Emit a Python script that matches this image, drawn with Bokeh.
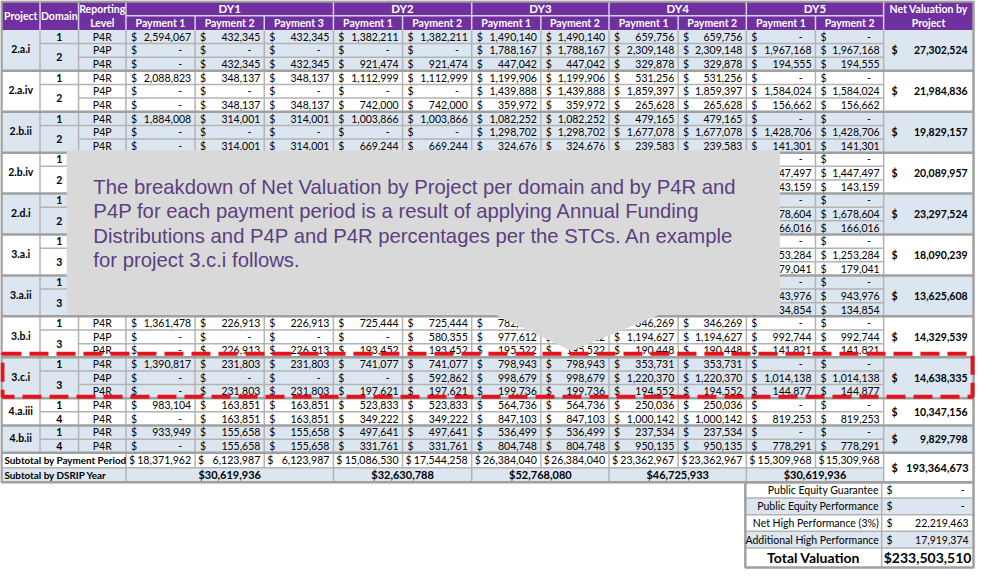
from bokeh.plotting import figure
from bokeh.models import Range1d, ColumnDataSource
from bokeh.core.properties import value
from bokeh.embed import file_html
from bokeh.resources import INLINE

H = None  # value hidden under the call-out box

# ---------------- data ----------------
projects = ["2.a.i", "2.a.iv", "2.b.ii", "2.b.iv", "2.d.i", "3.a.i", "3.a.ii",
            "3.b.i", "3.c.i", "4.a.iii", "4.b.ii"]
project_domains = [["1", "2"], ["1", "2"], ["1", "2"], ["1", "2"], ["1", "2"],
                   ["1", "3"], ["1", "3"], ["1", "3"], ["1", "3"], ["1", "4"], ["1", "4"]]
project_levels = [["P4R", "P4P", "P4R"]] * 9 + [["P4R", "P4R"]] * 2
net_valuation = [27302524, 21984836, 19829157, 20089957, 23297524, 18090239,
                 13625608, 14329539, 14638335, 10347156, 9829798]

dy_labels = ["DY1", "DY2", "DY3", "DY4", "DY5"]
dy_payments = [3, 2, 2, 2, 2]
payment_labels = ["Payment 1", "Payment 2", "Payment 3", "Payment 1", "Payment 2",
                  "Payment 1", "Payment 2", "Payment 1", "Payment 2", "Payment 1", "Payment 2"]

dy1_p1 = [2594067, 0, 0, 2088823, 0, 0, 1884008, 0, 0] + [H] * 12 + [1361478, 0, 0, 1390817, 0, 0, 983104, 0, 933949, 0]
dy1_p2 = [432345, 0, 432345, 348137, 0, 348137, 314001, 0, 314001] + [H] * 12 + [226913, 0, 226913, 231803, 0, 231803, 163851, 163851, 155658, 155658]
dy1_p3 = [432345, 0, 432345, 348137, 0, 348137, 314001, 0, 314001] + [H] * 12 + [226913, 0, 226913, 231803, 0, 231803, 163851, 163851, 155658, 155658]
dy2_p1 = [1382211, 0, 921474, 1112999, 0, 742000, 1003866, 0, 669244] + [H] * 12 + [725444, 0, 193452, 741077, 0, 197621, 523833, 349222, 497641, 331761]
dy2_p2 = [1382211, 0, 921474, 1112999, 0, 742000, 1003866, 0, 669244] + [H] * 12 + [725444, 580355, 193452, 741077, 592862, 197621, 523833, 349222, 497641, 331761]
dy3_p1 = [1490140, 1788167, 447042, 1199906, 1439888, 359972, 1082252, 1298702, 324676] + [H] * 12 + [782094, 977612, 195522, 798943, 998679, 199736, 564736, 847103, 536499, 804748]
dy3_p2 = [1490140, 1788167, 447042, 1199906, 1439888, 359972, 1082252, 1298702, 324676] + [H] * 12 + [782094, 977612, 195522, 798943, 998679, 199736, 564736, 847103, 536499, 804748]
dy4_p1 = [659756, 2309148, 329878, 531256, 1859397, 265628, 479165, 1677078, 239583] + [H] * 12 + [346269, 1194627, 190448, 353731, 1220370, 194552, 250036, 1000142, 237534, 950135]
dy4_p2 = [659756, 2309148, 329878, 531256, 1859397, 265628, 479165, 1677078, 239583] + [H] * 12 + [346269, 1194627, 190448, 353731, 1220370, 194552, 250036, 1000142, 237534, 950135]
dy5_p1 = [0, 1967168, 194555, 0, 1584024, 156662, 0, 1428706, 141301, 0, 1447497, 143159,
          0, 1678604, 166016, 0, 1253284, 179041, 0, 943976, 134854, 0, 992744, 141821,
          0, 1014138, 144877, 0, 819253, 0, 778291]
dy5_p2 = [0, 1967168, 194555, 0, 1584024, 156662, 0, 1428706, 141301, 0, 1447497, 143159,
          0, 1678604, 166016, 0, 1253284, 179041, 0, 943976, 134854, 0, 992744, 141821,
          0, 1014138, 144877, 0, 819253, 0, 778291]
payment_columns = [dy1_p1, dy1_p2, dy1_p3, dy2_p1, dy2_p2, dy3_p1, dy3_p2, dy4_p1, dy4_p2, dy5_p1, dy5_p2]

subtotal_payment = [18371962, 6123987, 6123987, 15086530, 17544258, 26384040, 26384040,
                    23362967, 23362967, 15309968, 15309968]
subtotal_year = [30619936, 32630788, 52768080, 46725933, 30619936]
subtotal_project = 193364673
adjust_labels = ["Public Equity Guarantee", "Public Equity Performance",
                 "Net High Performance (3%)", "Additional High Performance"]
adjust_values = [0, 0, 22219463, 17919374]
total_valuation = 233503510

callout_lines = [
    "The breakdown of Net Valuation by Project per domain and by P4R and",
    "P4P for each payment period is a result of applying Annual Funding",
    "Distributions and P4P and P4R percentages per the STCs. An example",
    "for project 3.c.i follows.",
]
highlight_project = "3.c.i"

# ---------------- layout / style ----------------
FONT = "Lato"
PURPLE = "#7030a0"
BLUE = "#dce6f1"
WHITE = "#ffffff"

col_x = [2, 41, 80, 128, 198, 268, 338, 408, 478, 548, 617, 687, 756, 826, 895, 986]
dy_edges = [3, 6, 8, 10, 12, 14]
hdr_y = [3, 17.5, 32]
row_h = 13.93
n_rows = sum(len(l) for l in project_levels)
row_y = [32 + i * row_h for i in range(n_rows + 1)]
sub_y = [row_y[-1], 479, 494]
adj_x = [755, 893, 986]
adj_y = [494, 510, 527, 544, 561, 581]

p = figure(width=976, height=569, x_range=Range1d(1, 989), y_range=Range1d(583, 2),
           output_backend="svg", toolbar_location=None, min_border=0,
           x_axis_type=None, y_axis_type=None)
p.grid.visible = False
p.outline_line_color = None
p.background_fill_color = WHITE
p.border_fill_color = WHITE

fills = dict(left=[], right=[], top=[], bottom=[], color=[])


def F(l, r, t, b, c):
    fills["left"].append(l); fills["right"].append(r)
    fills["top"].append(t); fills["bottom"].append(b); fills["color"].append(c)


segs = {"thin": dict(x0=[], y0=[], x1=[], y1=[]),
        "thick": dict(x0=[], y0=[], x1=[], y1=[]),
        "hdr": dict(x0=[], y0=[], x1=[], y1=[])}


def S(kind, x0, y0, x1, y1):
    d = segs[kind]
    d["x0"].append(x0); d["y0"].append(y0); d["x1"].append(x1); d["y1"].append(y1)


text_styles = {
    "body": ("10.5px", "normal", "#000000"),
    "bold": ("10.5px", "bold", "#000000"),
    "hdr": ("10.5px", "bold", "#ffffff"),
    "hdr2": ("11.5px", "bold", "#ffffff"),
    "sub": ("10.6px", "normal", "#000000"),
    "subb": ("9.9px", "bold", "#000000"),
    "subv": ("11px", "bold", "#000000"),
    "big": ("14px", "bold", "#000000"),
}
texts = {}


def T(style, x, y, s, align="left"):
    d = texts.setdefault((style, align), dict(x=[], y=[], text=[]))
    d["x"].append(x); d["y"].append(y); d["text"].append(s)


def fmt(v):
    return f"{v:,.0f}"


# header
F(col_x[0], col_x[15], hdr_y[0], hdr_y[2], PURPLE)
T("hdr", (col_x[0] + col_x[1]) / 2, 17.5, "Project", "center")
T("hdr", (col_x[1] + col_x[2]) / 2, 17.5, "Domain", "center")
T("hdr", (col_x[2] + col_x[3]) / 2, 10.5, "Reporting", "center")
T("hdr", (col_x[2] + col_x[3]) / 2, 25, "Level", "center")
T("hdr", (col_x[14] + col_x[15]) / 2, 10.5, "Net Valuation by", "center")
T("hdr", (col_x[14] + col_x[15]) / 2, 25, "Project", "center")
c = 3
for lab, n in zip(dy_labels, dy_payments):
    T("hdr2", (col_x[c] + col_x[c + n]) / 2, 10.5, lab, "center")
    c += n
for j, lab in enumerate(payment_labels):
    T("hdr", (col_x[3 + j] + col_x[4 + j]) / 2, 25, lab, "center")
for c in [1, 2, 3, 6, 8, 10, 12, 14]:
    S("hdr", col_x[c], hdr_y[0], col_x[c], hdr_y[2])
for c in range(4, 14):
    if c not in dy_edges:
        S("hdr", col_x[c], hdr_y[1], col_x[c], hdr_y[2])
S("hdr", col_x[3], hdr_y[1], col_x[14], hdr_y[1])

# body
r = 0
for k, (proj, doms, levels) in enumerate(zip(projects, project_domains, project_levels)):
    n = len(levels)
    top, bot = row_y[r], row_y[r + n]
    F(col_x[0], col_x[15], top, bot, BLUE if k % 2 == 0 else WHITE)
    if k > 0:
        S("thick", col_x[0], top, col_x[15], top)
    for m in range(1, n):
        S("thin", col_x[1] if m == 1 else col_x[2], row_y[r + m], col_x[14], row_y[r + m])
    ym = (top + bot) / 2
    T("bold", (col_x[0] + col_x[1]) / 2, ym - 1, proj, "center")
    T("bold", (col_x[1] + col_x[2]) / 2, (row_y[r] + row_y[r + 1]) / 2, doms[0], "center")
    T("bold", (col_x[1] + col_x[2]) / 2, (row_y[r + 1] + bot) / 2, doms[1], "center")
    T("bold", col_x[14] + 8, ym, "$", "left")
    T("bold", col_x[15] - 6, ym, fmt(net_valuation[k]), "right")
    for m, lev in enumerate(levels):
        i = r + m
        yc = (row_y[i] + row_y[i + 1]) / 2
        T("body", (col_x[2] + col_x[3]) / 2, yc, lev, "center")
        for j, col in enumerate(payment_columns):
            v = col[i]
            if v is None:
                continue
            l, rr = col_x[3 + j], col_x[4 + j]
            T("body", l + 5, yc, "$", "left")
            if v == 0:
                T("body", rr - 13, yc, "-", "right")
            else:
                T("body", rr - 4, yc, fmt(v), "right")
    r += n

for c in [1, 2]:
    S("thin", col_x[c], hdr_y[2], col_x[c], row_y[-1])
for c in range(3, 15):
    S("thin", col_x[c], hdr_y[2], col_x[c], sub_y[2] if c in dy_edges else sub_y[1])

# subtotals
F(col_x[0], col_x[15], sub_y[0], sub_y[1], WHITE)
F(col_x[0], col_x[14], sub_y[1], sub_y[2], BLUE)
S("thick", col_x[0], sub_y[0], col_x[15], sub_y[0])
S("thin", col_x[0], sub_y[1], col_x[14], sub_y[1])
ys1 = (sub_y[0] + sub_y[1]) / 2
ys2 = (sub_y[1] + sub_y[2]) / 2
T("subb", col_x[0] + 3, ys1, "Subtotal by Payment Period", "left")
T("subb", col_x[0] + 3, ys2, "Subtotal by DSRIP Year", "left")
for j, v in enumerate(subtotal_payment):
    T("sub", col_x[3 + j] + 3, ys1, "$", "left")
    T("sub", col_x[4 + j] - 4, ys1, fmt(v), "right")
c = 3
for v, n in zip(subtotal_year, dy_payments):
    T("subv", (col_x[c] + col_x[c + n]) / 2, ys2, "$" + fmt(v), "center")
    c += n
T("subv", col_x[14] + 8, sub_y[1], "$", "left")
T("subv", col_x[15] - 5, sub_y[1], fmt(subtotal_project), "right")

# adjustments block
for q, (lab, v) in enumerate(zip(adjust_labels, adjust_values)):
    F(adj_x[0], adj_x[2], adj_y[q], adj_y[q + 1], WHITE if q % 2 == 0 else BLUE)
    yc = (adj_y[q] + adj_y[q + 1]) / 2
    T("body", adj_x[1] - 3, yc, lab, "right")
    T("body", adj_x[1] + 5, yc, "$", "left")
    T("body", adj_x[2] - (9 if v == 0 else 5), yc, "-" if v == 0 else fmt(v), "right")
F(adj_x[0], adj_x[2], adj_y[4], adj_y[5], WHITE)
T("big", (adj_x[0] + adj_x[1]) / 2, (adj_y[4] + adj_y[5]) / 2, "Total Valuation", "center")
T("big", (adj_x[1] + adj_x[2]) / 2, (adj_y[4] + adj_y[5]) / 2, "$" + fmt(total_valuation), "center")
for yy in adj_y[1:5]:
    S("thin", adj_x[0], yy, adj_x[2], yy)
S("thin", adj_x[1], adj_y[0], adj_x[1], adj_y[5])

# draw fills, lines
p.quad(left="left", right="right", top="top", bottom="bottom", fill_color="color",
       line_color=None, source=ColumnDataSource(fills))
p.segment("x0", "y0", "x1", "y1", source=ColumnDataSource(segs["thin"]), line_color="#b3b3b3", line_width=1.5)
p.segment("x0", "y0", "x1", "y1", source=ColumnDataSource(segs["thick"]), line_color="#a0a0a0", line_width=2.5)
p.segment("x0", "y0", "x1", "y1", source=ColumnDataSource(segs["hdr"]), line_color="#d9cfe3", line_width=1.5)
p.quad(left=[col_x[0]], right=[col_x[15]], top=[hdr_y[0]], bottom=[sub_y[2]], fill_color=None,
       line_color="#a0a0a0", line_width=2.5)
p.quad(left=[adj_x[0]], right=[adj_x[2]], top=[adj_y[0]], bottom=[adj_y[5]], fill_color=None,
       line_color="#a0a0a0", line_width=2.5)

for (style, align), d in texts.items():
    size, fstyle, color = text_styles[style]
    p.text(x="x", y="y", text="text", source=ColumnDataSource(d), text_align=align,
           text_baseline="middle", text_font=value(FONT), text_font_size=value(size),
           text_font_style=fstyle, text_color=color)

# red dashed highlight around 3.c.i
hk = projects.index(highlight_project)
h0 = sum(len(l) for l in project_levels[:hk])
h1 = h0 + len(project_levels[hk])
p.quad(left=[3], right=[985], top=[row_y[h0] - 3.5], bottom=[row_y[h1] - 1.5], fill_color=None,
       line_color="#e3141c", line_width=4, line_dash="19 8")

# call-out box
p.patch([68, 790, 790, 668, 579, 502, 68], [155, 155, 323, 323, 360, 323, 323],
        fill_color="#d9d9d9", line_color=None)
p.text(x=[95] * len(callout_lines), y=[192 + 25 * i for i in range(len(callout_lines))],
       text=callout_lines, text_align="left", text_baseline="middle",
       text_font=value("Liberation Sans"), text_font_size=value("20.3px"), text_color="#5b3f80")

open("out.html", "w").write(file_html(p, INLINE))
